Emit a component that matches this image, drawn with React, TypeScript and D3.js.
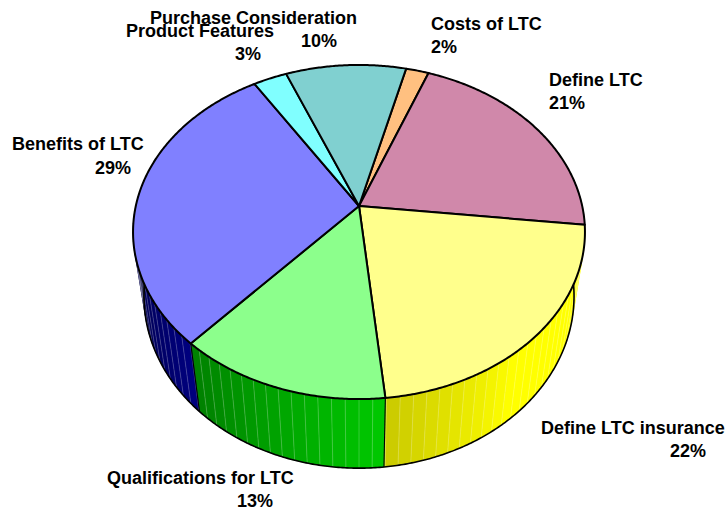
import React from "react";
import * as d3 from "d3";

const categories = ["Costs of LTC", "Define LTC", "Define LTC insurance", "Qualifications for LTC", "Benefits of LTC", "Product Features", "Purchase Consideration"];
const shares = [1.9, 21.0, 21.6, 13.2, 29.5, 2.8, 10.0];
const percentLabels = ["2%", "21%", "22%", "13%", "29%", "3%", "10%"];
const topColors = ["#FFC080", "#D088AA", "#FFFF8C", "#8CFF8C", "#8080FF", "#80FFFF", "#80D0D0"];
const sideColors = ["#FF8000", "#A01050", "#FFFF00", "#00FF00", "#0000FF", "#00FFFF", "#00A0A0"];

// label layout: [name x, name baseline, percent x, percent baseline]
const labelLayout = [
  [431, 30, 431, 53],
  [549, 86, 549, 109],
  [541, 434, 670, 457],
  [107, 484, 237, 507],
  [12, 150, 95, 174],
  [126, 37, 235, 60],
  [150, 24, 301, 47],
];

const W = 728, H = 512;
const rad = Math.PI / 180;
const START = 14.07 * rad;
const FACET = 3 * rad;

type Plane = { cx: number; y0: number; a: number; b: number; k: number };
const topPlane: Plane = { cx: 359, y0: 206, a: 223.2, b: 163, k: -0.1557 };
const lowPlane: Plane = { cx: 359, y0: 270.5, a: 212.6, b: 168, k: -0.15 };

const project = (p: Plane, t: number): [number, number] => {
  const u = Math.sin(t), v = -Math.cos(t);
  const w = 1 + p.k * v;
  return [p.cx + (p.a * u) / w, p.y0 + (p.b * v) / w];
};

const samples = (t0: number, t1: number, step = 0.5 * rad) => {
  const n = Math.max(1, Math.ceil((t1 - t0) / step));
  return d3.range(n + 1).map((i) => t0 + ((t1 - t0) * i) / n);
};

const lineGen = d3.line<[number, number]>().x((d) => d[0]).y((d) => d[1]);

// lateral shading of the wall, by angle in degrees
const shade = d3.scaleLinear().domain([142, 174, 222, 275]).range([1, 0.79, 0.5, 0.16]).clamp(true);

const arcs = d3.pie<number>().sort(null).startAngle(START).endAngle(START + 2 * Math.PI)(shares);

const WALL_FROM = 60 * rad, WALL_TO = 300 * rad;

export default function App() {
  const facets: { d: string; fill: string }[] = [];
  const ribs: { a: [number, number]; b: [number, number] }[] = [];
  arcs.forEach((arc, i) => {
    const from = Math.max(arc.startAngle, WALL_FROM);
    const to = Math.min(arc.endAngle, WALL_TO);
    if (to <= from) return;
    const first = Math.floor(from / FACET);
    const last = Math.ceil(to / FACET);
    d3.range(first, last).forEach((j) => {
      const a = Math.max(from, j * FACET);
      const b = Math.min(to, (j + 1) * FACET);
      if (b <= a) return;
      const ts = samples(a, b);
      const pts = [...ts.map((t) => project(topPlane, t)), ...ts.slice().reverse().map((t) => project(lowPlane, t))];
      const f = shade(((a + b) / 2) / rad);
      const c = d3.rgb(sideColors[i]);
      const fill = d3.rgb(c.r * f, c.g * f, c.b * f).formatHex();
      facets.push({ d: lineGen(pts)! + "Z", fill });
      if (b < to) ribs.push({ a: project(topPlane, b), b: project(lowPlane, b) });
    });
  });

  const lowerRim = lineGen(samples(WALL_FROM, WALL_TO).map((t) => project(lowPlane, t)))!;
  const seams = arcs
    .map((a) => a.startAngle)
    .filter((t) => t > 110 * rad && t < 260 * rad)
    .map((t) => ({ a: project(topPlane, t), b: project(lowPlane, t) }));

  return (
    <svg width={W} height={H} viewBox={`0 0 ${W} ${H}`} style={{ position: "absolute", left: 0, top: 0, background: "#fff" }}>
      <g>
        {facets.map((f, i) => (
          <path key={i} d={f.d} fill={f.fill} stroke={f.fill} strokeWidth={0.5} />
        ))}
      </g>
      <g stroke="#fff" strokeOpacity={0.3} strokeWidth={0.7}>
        {ribs.map((s, i) => (
          <line key={i} x1={s.a[0]} y1={s.a[1]} x2={s.b[0]} y2={s.b[1]} />
        ))}
      </g>
      <path d={lowerRim} fill="none" stroke="#000" strokeWidth={1.6} />
      {seams.map((s, i) => (
        <line key={i} x1={s.a[0]} y1={s.a[1]} x2={s.b[0]} y2={s.b[1]} stroke="#000" strokeWidth={1.1} />
      ))}
      <g>
        {arcs.map((arc, i) => {
          const rim = samples(arc.startAngle, arc.endAngle).map((t) => project(topPlane, t));
          const d = lineGen([[topPlane.cx, topPlane.y0], ...rim])! + "Z";
          return <path key={i} d={d} fill={topColors[i]} stroke="#000" strokeWidth={2} strokeLinejoin="round" />;
        })}
      </g>
      <g fontFamily="'Liberation Sans', Arial, sans-serif" fontWeight="bold" fontSize={18} fill="#000">
        {categories.map((c, i) => (
          <g key={c}>
            <text x={labelLayout[i][0]} y={labelLayout[i][1]}>{c}</text>
            <text x={labelLayout[i][2]} y={labelLayout[i][3]}>{percentLabels[i]}</text>
          </g>
        ))}
      </g>
    </svg>
  );
}
